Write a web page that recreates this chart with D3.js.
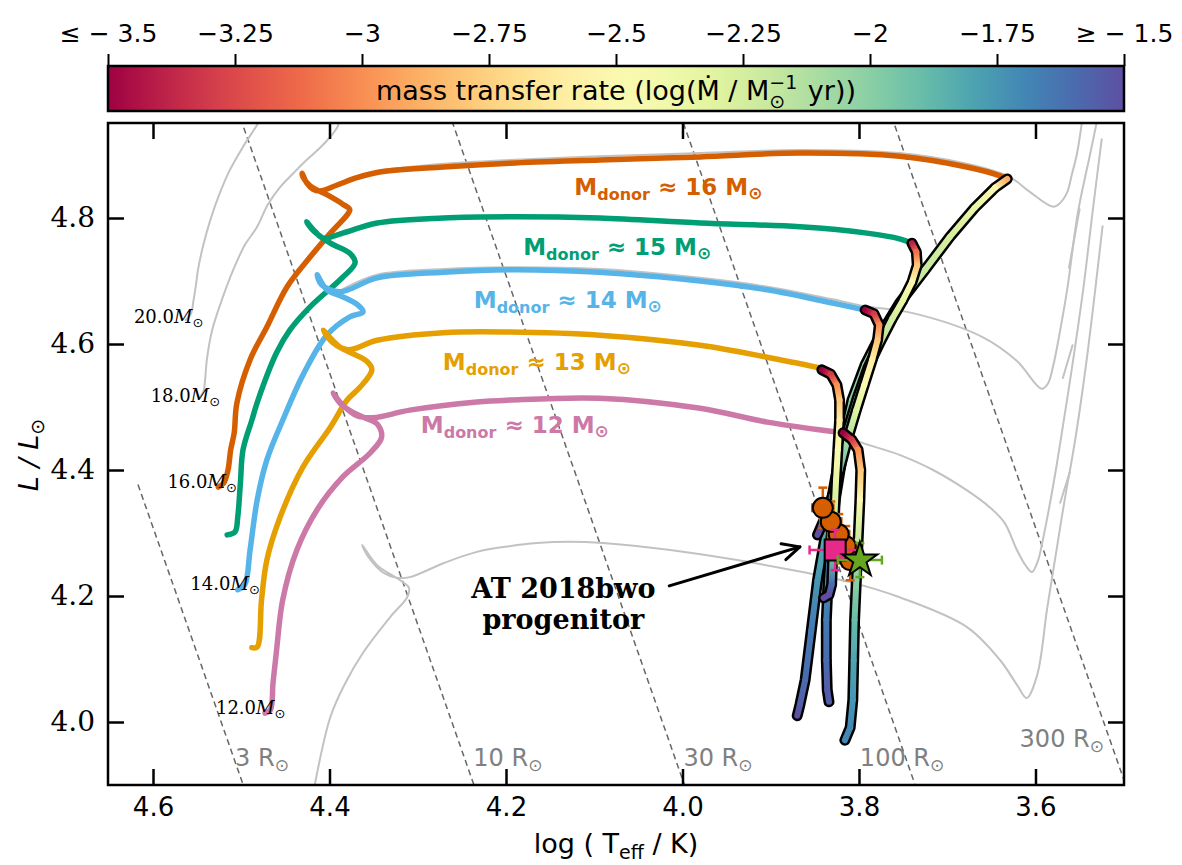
<!DOCTYPE html>
<html>
<head>
<meta charset="utf-8">
<script src="https://cdn.jsdelivr.net/npm/d3@7"></script>
<style>
  body { margin: 0; background: #fff; }
  svg text { font-family: "DejaVu Sans", sans-serif; }
</style>
</head>
<body>
<svg id="chart" width="1182" height="865"></svg>
<script>
// ---------- data: [log Teff, log L] ----------
// single-star tracks (grey)
const grey20 = [[4.563,4.638],[4.557,4.648],[4.554,4.670],[4.551,4.697],[4.549,4.718],[4.543,4.757],[4.535,4.797],[4.525,4.837],[4.513,4.876],[4.498,4.913],[4.482,4.948],[4.480,4.954]];
const grey18 = [[4.547,4.516],[4.543,4.524],[4.541,4.543],[4.539,4.575],[4.533,4.622],[4.522,4.670],[4.509,4.718],[4.496,4.757],[4.482,4.786],[4.470,4.821],[4.456,4.849],[4.441,4.871],[4.426,4.892],[4.411,4.911],[4.399,4.929],[4.393,4.940],[4.390,4.948],[4.392,4.954]];
const grey16 = [[4.343,4.876],[4.271,4.886],[4.196,4.892],[4.094,4.898],[3.980,4.903],[3.867,4.908],[3.754,4.903],[3.678,4.886],[3.629,4.865],[3.606,4.841],[3.580,4.818],[3.572,4.824],[3.564,4.841],[3.559,4.868],[3.553,4.902],[3.547,4.956]];
const grey14 = [[4.385,4.687],[4.346,4.710],[4.271,4.719],[4.196,4.722],[4.094,4.719],[3.980,4.705],[3.904,4.691],[3.830,4.671],[3.793,4.660],[3.739,4.649],[3.660,4.611],[3.621,4.573],[3.593,4.529],[3.586,4.537],[3.580,4.565],[3.572,4.622],[3.564,4.687],[3.552,4.808],[3.538,4.902],[3.530,4.956]];
const grey12 = [[3.818,4.460],[3.807,4.449],[3.754,4.424],[3.716,4.400],[3.678,4.368],[3.652,4.341],[3.635,4.316],[3.621,4.273],[3.611,4.248],[3.604,4.238],[3.597,4.257],[3.592,4.287],[3.584,4.344],[3.576,4.408],[3.567,4.487],[3.559,4.559],[3.546,4.686],[3.535,4.813],[3.525,4.925]];
const grey10 = [[4.420,3.876],[4.399,4.008],[4.382,4.062],[4.362,4.110],[4.331,4.167],[4.312,4.198],[4.310,4.213],[4.320,4.225],[4.346,4.249],[4.363,4.281],[4.356,4.262],[4.339,4.237],[4.324,4.229],[4.309,4.230],[4.271,4.252],[4.233,4.270],[4.196,4.279],[4.165,4.284],[4.128,4.286],[4.090,4.284],[4.014,4.273],[3.938,4.257],[3.864,4.238],[3.810,4.222],[3.754,4.198],[3.678,4.151],[3.640,4.098],[3.621,4.059],[3.610,4.038],[3.598,4.075],[3.587,4.178],[3.578,4.257],[3.567,4.352],[3.555,4.448],[3.542,4.575],[3.524,4.787]];
const greyLoops = [
  [[3.562,4.721],[3.550,4.814]],
  [[3.569,4.546],[3.558,4.598]],
  [[3.572,4.348],[3.561,4.397]]
];
const greyMasses = ["20.0", "18.0", "16.0", "14.0", "12.0"];

// binary donor tracks before mass transfer
const donor16 = [[4.526,4.373],[4.520,4.379],[4.515,4.400],[4.512,4.432],[4.508,4.459],[4.505,4.506],[4.490,4.575],[4.471,4.627],[4.448,4.691],[4.422,4.738],[4.399,4.776],[4.380,4.805],[4.377,4.813],[4.385,4.822],[4.403,4.837],[4.422,4.851],[4.430,4.865],[4.431,4.871],[4.426,4.856],[4.419,4.846],[4.411,4.843],[4.392,4.852],[4.369,4.864],[4.343,4.873],[4.271,4.881],[4.196,4.887],[4.094,4.892],[3.980,4.897],[3.867,4.903],[3.754,4.898],[3.678,4.881],[3.640,4.867],[3.632,4.862]];
const donor15 = [[4.516,4.297],[4.507,4.302],[4.504,4.325],[4.501,4.379],[4.498,4.432],[4.488,4.479],[4.481,4.511],[4.460,4.586],[4.445,4.622],[4.422,4.659],[4.385,4.706],[4.371,4.729],[4.377,4.744],[4.399,4.760],[4.419,4.781],[4.426,4.794],[4.416,4.778],[4.407,4.768],[4.385,4.776],[4.346,4.792],[4.271,4.800],[4.196,4.802],[4.094,4.800],[3.980,4.792],[3.867,4.786],[3.791,4.776],[3.754,4.767],[3.740,4.760]];
const donor14 = [[4.504,4.210],[4.496,4.218],[4.490,4.273],[4.482,4.352],[4.471,4.416],[4.453,4.479],[4.430,4.551],[4.403,4.614],[4.377,4.643],[4.362,4.651],[4.368,4.662],[4.385,4.675],[4.403,4.686],[4.414,4.710],[4.409,4.694],[4.388,4.683],[4.346,4.705],[4.271,4.714],[4.196,4.718],[4.094,4.714],[3.980,4.700],[3.904,4.686],[3.830,4.665],[3.793,4.654]];
const donor13 = [[4.488,4.118],[4.482,4.119],[4.477,4.194],[4.471,4.257],[4.456,4.325],[4.430,4.405],[4.399,4.468],[4.380,4.511],[4.365,4.532],[4.352,4.559],[4.358,4.573],[4.377,4.587],[4.388,4.595],[4.402,4.614],[4.407,4.622],[4.397,4.603],[4.379,4.591],[4.346,4.606],[4.271,4.618],[4.196,4.619],[4.094,4.614],[3.980,4.598],[3.904,4.579],[3.844,4.562]];
const donor12 = [[4.473,4.014],[4.467,4.019],[4.464,4.062],[4.460,4.114],[4.453,4.194],[4.437,4.273],[4.414,4.337],[4.385,4.389],[4.354,4.427],[4.341,4.452],[4.346,4.473],[4.360,4.483],[4.373,4.491],[4.388,4.506],[4.396,4.522],[4.385,4.503],[4.369,4.486],[4.351,4.483],[4.309,4.495],[4.233,4.508],[4.196,4.511],[4.094,4.514],[3.980,4.498],[3.904,4.476],[3.818,4.459]];
const donorMasses = [16, 15, 14, 13, 12];
const donorColors = ["#D55E00", "#009E73", "#56B4E9", "#E69F00", "#CC79A7"];

// mass-transfer phase: positions and log(Mdot)
const mt16 = [[3.632,4.862],[3.646,4.848],[3.669,4.816],[3.697,4.770],[3.725,4.718],[3.754,4.665],[3.776,4.614],[3.793,4.567],[3.808,4.511],[3.818,4.448],[3.827,4.384],[3.837,4.305],[3.847,4.225],[3.854,4.146],[3.861,4.067],[3.867,4.027],[3.870,4.010]];
const mt16Rate = [-2.9,-2.5,-2.35,-2.25,-2.2,-2.15,-2.1,-2.05,-2.0,-1.95,-1.9,-1.85,-1.75,-1.65,-1.6,-1.55,-1.5];
const mt15 = [[3.740,4.760],[3.735,4.746],[3.734,4.725],[3.740,4.698],[3.750,4.670],[3.762,4.641],[3.776,4.603],[3.790,4.562],[3.802,4.514],[3.813,4.464],[3.820,4.413],[3.827,4.352],[3.832,4.289],[3.835,4.225],[3.837,4.162],[3.837,4.098],[3.836,4.051],[3.834,4.032]];
const mt15Rate = [-3.4,-3.1,-2.8,-2.5,-2.35,-2.25,-2.15,-2.05,-1.95,-1.9,-1.85,-1.8,-1.75,-1.7,-1.65,-1.6,-1.55,-1.55];
const mt14 = [[3.793,4.654],[3.783,4.648],[3.777,4.630],[3.779,4.606],[3.785,4.575],[3.794,4.535],[3.803,4.495],[3.813,4.448],[3.822,4.400],[3.830,4.360],[3.837,4.329],[3.843,4.310],[3.847,4.297]];
const mt14Rate = [-3.5,-3.3,-3.0,-2.8,-2.6,-2.45,-2.3,-2.1,-1.9,-1.75,-1.6,-1.5,-1.5];
const mt13 = [[3.842,4.559],[3.832,4.552],[3.825,4.535],[3.822,4.511],[3.822,4.479],[3.824,4.432],[3.826,4.384],[3.828,4.321],[3.830,4.257],[3.831,4.218],[3.834,4.202],[3.840,4.197]];
const mt13Rate = [-3.5,-3.3,-3.0,-2.8,-2.6,-2.45,-2.35,-2.2,-1.9,-1.6,-1.5,-1.5];
const mt12 = [[3.818,4.459],[3.808,4.448],[3.801,4.432],[3.798,4.400],[3.799,4.352],[3.801,4.289],[3.803,4.225],[3.805,4.162],[3.806,4.098],[3.807,4.035],[3.810,3.991],[3.816,3.971]];
const mt12Rate = [-3.5,-3.3,-3.0,-2.8,-2.5,-2.2,-2.0,-1.9,-1.8,-1.75,-1.7,-1.7];

// AT 2018bwo progenitor estimates
const circT = [3.841, 3.832, 3.823, 3.815, 3.810];
const circL = [4.340, 4.318, 4.298, 4.279, 4.257];
const circTErr = [0.012, 0.012, 0.012, 0.012, 0.012];
const circLErr = [0.032, 0.032, 0.032, 0.032, 0.032];
const squareObs = { T: 3.827, L: 4.273, eT: 0.029, eL: 0.032 };
const starObs = { T: 3.799, L: 4.257, eT: 0.025, eL: 0.027 };

// constant-radius lines (R / Rsun)
const radii = [3, 10, 30, 100, 300];

// tick values
const xTicks = [4.6, 4.4, 4.2, 4.0, 3.8, 3.6];
const yTicks = [4.0, 4.2, 4.4, 4.6, 4.8];
const cbTicks = [-3.5, -3.25, -3.0, -2.75, -2.5, -2.25, -2.0, -1.75, -1.5];

// ---------- layout ----------
const svg = d3.select("#chart");
const P = { l: 108, r: 1124, t: 123, b: 785 };
const x = d3.scaleLinear().domain([4.651, 3.4997]).range([P.l, P.r]);
const y = d3.scaleLinear().domain([3.9, 4.9508]).range([P.b, P.t]);
const cbScale = d3.scaleLinear().domain([-3.5, -1.5]).range([P.l, P.r]);
const rateColor = v => d3.interpolateSpectral(Math.max(0, Math.min(1, (v + 3.5) / 2)));

const defs = svg.append("defs");
defs.append("clipPath").attr("id", "plotClip")
  .append("rect").attr("x", P.l).attr("y", P.t).attr("width", P.r - P.l).attr("height", P.b - P.t);

const smooth = d3.line().x(d => x(d[0])).y(d => y(d[1])).curve(d3.curveCatmullRom.alpha(0.5));
const straight = d3.line().x(d => x(d[0])).y(d => y(d[1]));

const plot = svg.append("g").attr("clip-path", "url(#plotClip)");

// constant-radius lines
const logTsun = Math.log10(5772);
const rLine = R => [4.617, 3.45].map(t => [t, 2 * Math.log10(R) + 4 * (t - logTsun)]);
plot.append("g").selectAll("path").data(radii).join("path")
  .attr("d", R => straight(rLine(R)))
  .attr("fill", "none").attr("stroke", "#666").attr("stroke-width", 1.5)
  .attr("stroke-dasharray", "6,4");

// grey single-star tracks
const greyTracks = [grey20, grey18, grey16, grey14, grey12, grey10, ...greyLoops];
plot.append("g").selectAll("path").data(greyTracks).join("path")
  .attr("d", smooth)
  .attr("fill", "none").attr("stroke", "#c2c2c2").attr("stroke-width", 2)
  .attr("stroke-linejoin", "round").attr("stroke-linecap", "round");

// coloured donor tracks
const donors = [donor16, donor15, donor14, donor13, donor12];
plot.append("g").selectAll("path").data(donors).join("path")
  .attr("d", smooth)
  .attr("fill", "none")
  .attr("stroke", (d, i) => donorColors[i]).attr("stroke-width", 5.5)
  .attr("stroke-linejoin", "round").attr("stroke-linecap", "round");

// mass-transfer phases, outlined and coloured by rate
const mtTracks = [[mt16, mt16Rate], [mt15, mt15Rate], [mt14, mt14Rate], [mt13, mt13Rate], [mt12, mt12Rate]];
const mtG = plot.append("g");
let gid = 0;
mtTracks.forEach(([pts, rate]) => {
  mtG.append("path").attr("d", straight(pts))
    .attr("fill", "none").attr("stroke", "#000").attr("stroke-width", 11)
    .attr("stroke-linejoin", "round").attr("stroke-linecap", "round");
  for (let i = 0; i < pts.length - 1; i++) {
    const a = pts[i], b = pts[i + 1];
    const id = "seg" + (gid++);
    const lg = defs.append("linearGradient").attr("id", id)
      .attr("gradientUnits", "userSpaceOnUse")
      .attr("x1", x(a[0])).attr("y1", y(a[1])).attr("x2", x(b[0])).attr("y2", y(b[1]));
    lg.append("stop").attr("offset", 0).attr("stop-color", rateColor(rate[i]));
    lg.append("stop").attr("offset", 1).attr("stop-color", rateColor(rate[i + 1]));
    mtG.append("line")
      .attr("x1", x(a[0])).attr("y1", y(a[1])).attr("x2", x(b[0])).attr("y2", y(b[1]))
      .attr("stroke", `url(#${id})`).attr("stroke-width", 6).attr("stroke-linecap", "round");
  }
});

// error bars helper
function errBars(g, T, L, eT, eL, color) {
  const cap = 4.5;
  const cx = x(T), cy = y(L);
  const x0 = x(T + eT), x1 = x(T - eT), y0 = y(L + eL), y1 = y(L - eL);
  const ln = (a, b, c, d) => g.append("line").attr("x1", a).attr("y1", b).attr("x2", c).attr("y2", d)
    .attr("stroke", color).attr("stroke-width", 2.5);
  ln(x0, cy, x1, cy); ln(cx, y0, cx, y1);
  ln(x0, cy - cap, x0, cy + cap); ln(x1, cy - cap, x1, cy + cap);
  ln(cx - cap, y0, cx + cap, y0); ln(cx - cap, y1, cx + cap, y1);
}

const obs = plot.append("g");
const circIdx = d3.range(circT.length).reverse();
circIdx.forEach(i => errBars(obs, circT[i], circL[i], circTErr[i], circLErr[i], "#D55E00"));
circIdx.forEach(i => {
  obs.append("circle").attr("cx", x(circT[i])).attr("cy", y(circL[i])).attr("r", 10)
    .attr("fill", "#D55E00").attr("stroke", "#000").attr("stroke-width", 2);
});
errBars(obs, squareObs.T, squareObs.L, squareObs.eT, squareObs.eL, "#E7298A");
obs.append("path").attr("d", d3.symbol(d3.symbolSquare, 441)())
  .attr("transform", `translate(${x(squareObs.T)},${y(squareObs.L)})`)
  .attr("fill", "#E7298A").attr("stroke", "#000").attr("stroke-width", 2);
errBars(obs, starObs.T, starObs.L, starObs.eT, starObs.eL, "#66A61E");
obs.append("path").attr("d", d3.symbol(d3.symbolStar, 380)())
  .attr("transform", `translate(${x(starObs.T)},${y(starObs.L)})`)
  .attr("fill", "#66A61E").attr("stroke", "#000").attr("stroke-width", 2).attr("stroke-linejoin", "miter");

// annotation arrow
const arrowFrom = [4.015, 4.216], arrowTo = [3.867, 4.278];
{
  const ax0 = x(arrowFrom[0]), ay0 = y(arrowFrom[1]), ax1 = x(arrowTo[0]), ay1 = y(arrowTo[1]);
  const ang = Math.atan2(ay1 - ay0, ax1 - ax0), hl = 19, ha = 0.45;
  const g = svg.append("g").attr("stroke", "#000").attr("stroke-width", 3).attr("fill", "none")
    .attr("stroke-linecap", "round").attr("stroke-linejoin", "round");
  g.append("line").attr("x1", ax0).attr("y1", ay0).attr("x2", ax1).attr("y2", ay1);
  g.append("path").attr("d",
    `M${ax1 - hl * Math.cos(ang - ha)},${ay1 - hl * Math.sin(ang - ha)} L${ax1},${ay1} L${ax1 - hl * Math.cos(ang + ha)},${ay1 - hl * Math.sin(ang + ha)}`);
}
const noteG = svg.append("g").attr("font-weight", "bold").attr("font-size", 27).attr("text-anchor", "middle");
noteG.append("text").attr("x", x(4.135)).attr("y", y(4.197)).style("font-family", "DejaVu Serif").text("AT 2018bwo");
noteG.append("text").attr("x", x(4.135)).attr("y", y(4.147)).style("font-family", "DejaVu Serif").text("progenitor");

// donor track labels
const donorLabelPos = [[4.016, 4.849], [4.074, 4.754], [4.130, 4.670], [4.165, 4.571], [4.190, 4.471]];
donorLabelPos.forEach((p, i) => {
  const t = svg.append("text").attr("x", x(p[0])).attr("y", y(p[1]) + 8)
    .attr("text-anchor", "middle").attr("font-weight", "bold").attr("font-size", 23)
    .attr("fill", donorColors[i]);
  t.append("tspan").text("M");
  t.append("tspan").attr("font-size", 16).attr("dy", 5).text("donor");
  t.append("tspan").attr("dy", -5).text(` ≈ ${donorMasses[i]} M`);
  t.append("tspan").attr("font-size", 17).attr("dy", 4).text("⊙");
});

// grey mass labels
const greyLabelPos = [[4.543, 4.643], [4.524, 4.518], [4.505, 4.381], [4.479, 4.219], [4.450, 4.022]];
greyLabelPos.forEach((p, i) => {
  const t = svg.append("text").attr("x", x(p[0])).attr("y", y(p[1]) + 6)
    .attr("text-anchor", "end").attr("font-size", 18).style("font-family", "DejaVu Serif");
  t.append("tspan").text(greyMasses[i]);
  t.append("tspan").attr("font-style", "italic").text("M");
  t.append("tspan").attr("font-size", 13).attr("dy", 4).style("font-family", "DejaVu Sans").text("⊙");
});

// radius labels
const radiusLabelPos = [[4.507, 3.944], [4.237, 3.944], [3.999, 3.944], [3.799, 3.944], [3.618, 3.975]];
radiusLabelPos.forEach((p, i) => {
  const t = svg.append("text").attr("x", x(p[0])).attr("y", y(p[1]) + 9)
    .attr("font-size", 24).attr("fill", "#808080");
  t.append("tspan").text(`${radii[i]} R`);
  t.append("tspan").attr("font-size", 17).attr("dy", 5).text("⊙");
});

// axes (inward ticks on all sides)
const fmt1 = d3.format(".1f");
const axB = svg.append("g").attr("transform", `translate(0,${P.b})`)
  .call(d3.axisBottom(x).tickValues(xTicks).tickFormat(fmt1).tickSize(-16).tickPadding(13));
const axT = svg.append("g").attr("transform", `translate(0,${P.t})`)
  .call(d3.axisTop(x).tickValues(xTicks).tickFormat("").tickSize(-16));
const axL = svg.append("g").attr("transform", `translate(${P.l},0)`)
  .call(d3.axisLeft(y).tickValues(yTicks).tickFormat(fmt1).tickSize(-16).tickPadding(13));
const axR = svg.append("g").attr("transform", `translate(${P.r},0)`)
  .call(d3.axisRight(y).tickValues(yTicks).tickFormat("").tickSize(-16));
[axB, axT, axL, axR].forEach(a => {
  a.select(".domain").remove();
  a.selectAll(".tick line").attr("stroke", "#000").attr("stroke-width", 2.5);
});
axB.selectAll("text").attr("font-size", 26).attr("fill", "#000").style("font-family", "DejaVu Sans");
axL.selectAll("text").attr("font-size", 28).attr("fill", "#000").style("font-family", "DejaVu Serif");

svg.append("rect").attr("x", P.l).attr("y", P.t).attr("width", P.r - P.l).attr("height", P.b - P.t)
  .attr("fill", "none").attr("stroke", "#000").attr("stroke-width", 2.5);

// axis titles
{
  const t = svg.append("text").attr("x", 616).attr("y", 853).attr("text-anchor", "middle").attr("font-size", 27);
  t.append("tspan").text("log ( T");
  t.append("tspan").attr("font-size", 19).attr("dy", 6).text("eff");
  t.append("tspan").attr("dy", -6).text(" / K)");
  const yl = svg.append("text").attr("transform", "translate(38,455) rotate(-90)")
    .attr("text-anchor", "middle").attr("font-size", 27);
  yl.append("tspan").attr("font-style", "italic").text("L / L");
  yl.append("tspan").attr("font-size", 19).attr("dy", 6).text("⊙");
}

// colour bar
const cbTop = 66, cbBot = 111;
const grad = defs.append("linearGradient").attr("id", "cbGrad");
d3.range(0, 1.0001, 0.05).forEach(t => grad.append("stop").attr("offset", t).attr("stop-color", d3.interpolateSpectral(t)));
svg.append("rect").attr("x", P.l).attr("y", cbTop).attr("width", P.r - P.l).attr("height", cbBot - cbTop)
  .attr("fill", "url(#cbGrad)").attr("stroke", "#000").attr("stroke-width", 2.5);
const cbFmt = v => v === -3.5 ? "≤ − 3.5" : v === -1.5 ? "≥ − 1.5" : "−" + String(Math.abs(v));
const axC = svg.append("g").attr("transform", `translate(0,${cbTop})`)
  .call(d3.axisTop(cbScale).tickValues(cbTicks).tickFormat(cbFmt).tickSize(12).tickPadding(12));
axC.select(".domain").remove();
axC.selectAll(".tick line").attr("stroke", "#000").attr("stroke-width", 2);
axC.selectAll("text").attr("font-size", 25).attr("fill", "#000").style("font-family", "DejaVu Sans");
{
  const t = svg.append("text").attr("x", 616).attr("y", 100).attr("text-anchor", "middle").attr("font-size", 27);
  t.append("tspan").text("mass transfer rate (log(Ṁ / M");
  t.append("tspan").attr("font-size", 19).attr("dy", -11).text("−1");
  t.append("tspan").attr("font-size", 19).attr("dx", -28).attr("dy", 19).text("⊙");
  t.append("tspan").attr("dy", -8).attr("dx", 14).text(" yr))");
}
</script>
</body>
</html>
